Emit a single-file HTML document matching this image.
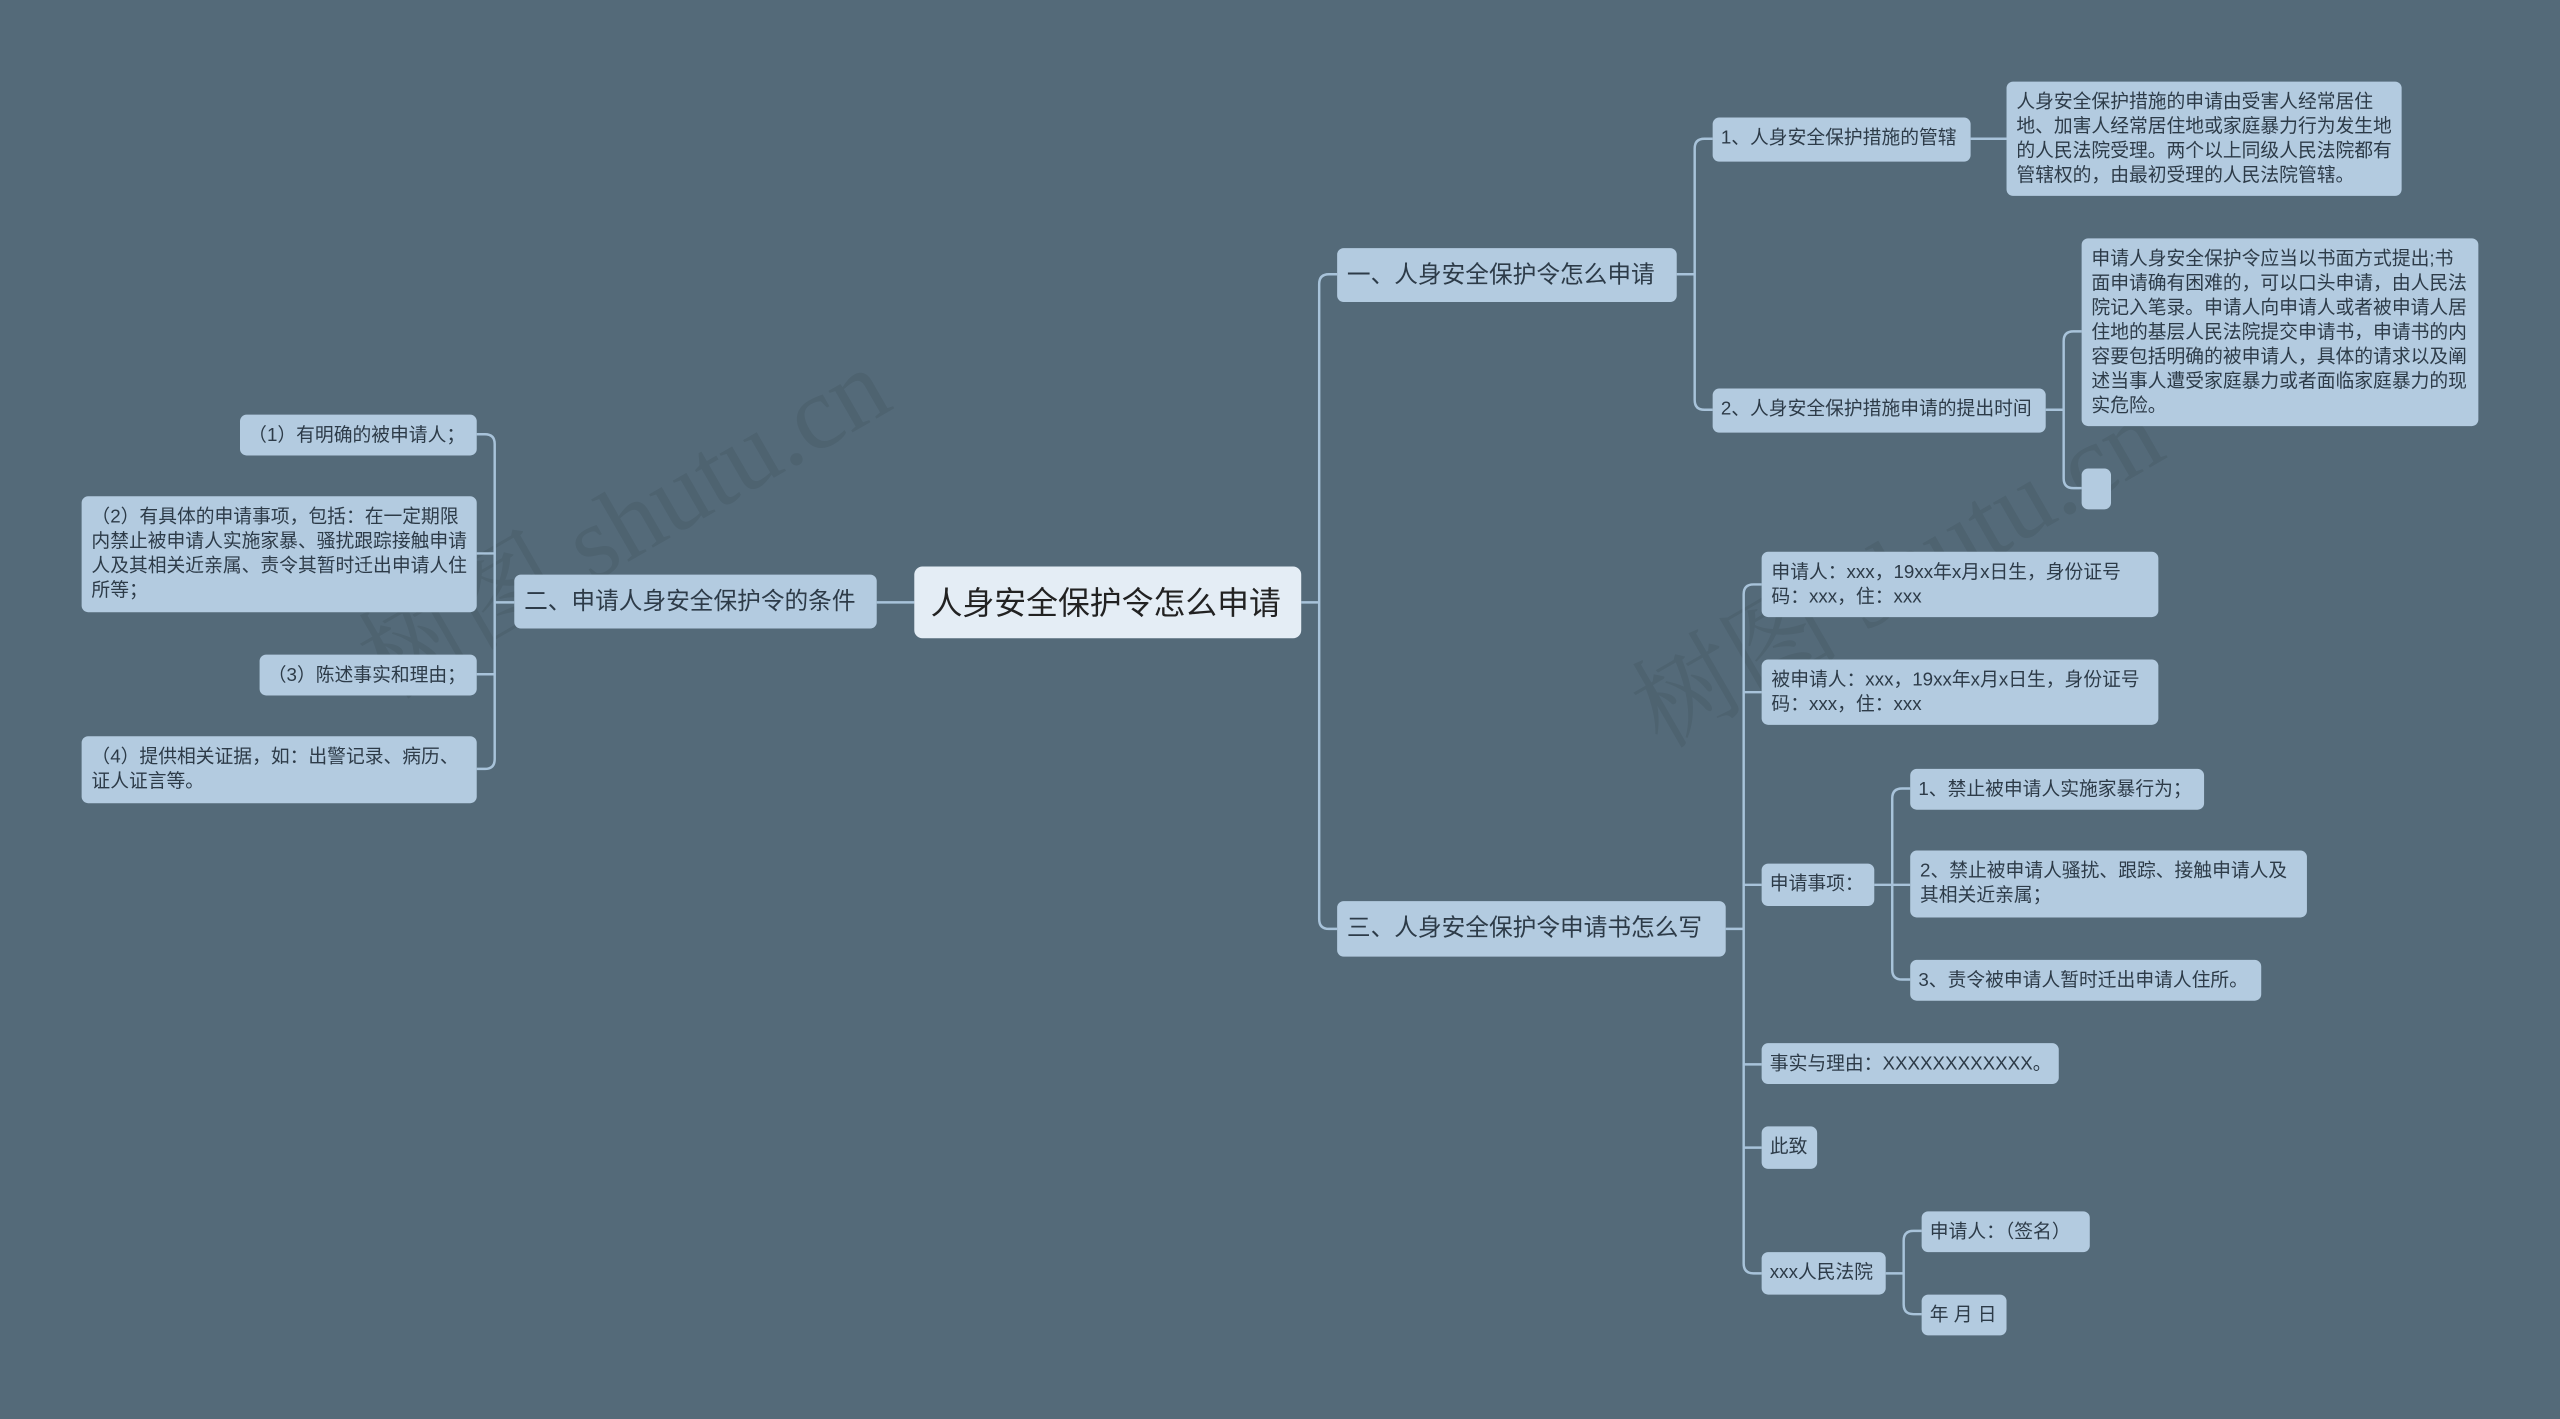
<!DOCTYPE html>
<html><head><meta charset="utf-8"><style>
html,body{margin:0;padding:0;width:2560px;height:1419px;overflow:hidden;background:#546a79;}
#s{position:absolute;left:0;top:0;width:1568px;height:869px;overflow:hidden;transform:scale(1.63265,1.6325);transform-origin:0 0;font-family:"Liberation Sans","Noto Sans CJK SC",sans-serif;}
.n{position:absolute;box-sizing:border-box;background:#b3cbe0;color:#2d3b48;border-radius:4px;font-size:11.5px;line-height:15px;padding:6px 6px 4px;}
.s{white-space:nowrap;padding:6px 5px 4px;}
.b{font-size:14.5px;line-height:20px;padding:7px 6px 5px;white-space:nowrap;}
.c{background:#e4edf5;font-size:19.5px;line-height:26px;padding:10px 10px 8px;border-radius:5px;color:#222;white-space:nowrap;}
.w{position:absolute;font-size:64px;color:rgba(40,55,65,0.14);transform:rotate(-30deg);white-space:nowrap;font-family:"Liberation Serif","Noto Serif CJK SC",serif;}
svg{position:absolute;left:0;top:0}
path{fill:none;stroke:#a8c3da;stroke-width:1.5}
</style></head><body><div id="s">
<div class="w" style="left:200px;top:270px">树图 shutu.cn</div>
<div class="w" style="left:980px;top:300px">树图 shutu.cn</div>
<svg width="1568" height="869">
<path d="M797 369H808"/>
<path d="M819 168H814Q808 168 808 174V563Q808 569 814 569H819"/>
<path d="M1027 168H1038"/>
<path d="M1049 85H1044Q1038 85 1038 91V245Q1038 251 1044 251H1049"/>
<path d="M1207 85H1229"/>
<path d="M1253 251H1264"/>
<path d="M1275 203H1270Q1264 203 1264 209V293Q1264 299 1270 299H1275"/>
<path d="M1057 569H1068"/>
<path d="M1079 358H1074Q1068 358 1068 364V774Q1068 780 1074 780H1079"/>
<path d="M1068 424H1079M1068 542H1079M1068 652H1079M1068 703H1079"/>
<path d="M1148 542H1159"/>
<path d="M1170 483H1165Q1159 483 1159 489V594Q1159 600 1165 600H1170"/>
<path d="M1159 542H1170"/>
<path d="M1155 780H1166"/>
<path d="M1177 754H1172Q1166 754 1166 760V799Q1166 805 1172 805H1177"/>
<path d="M560 369H537"/>
<path d="M315 369H303"/>
<path d="M292 266H297Q303 266 303 272V465Q303 471 297 471H292"/>
<path d="M292 339H303M292 413H303"/>
</svg>
<div class="n c" style="left:560px;top:347px;width:237px;height:44px">人身安全保护令怎么申请</div>
<div class="n b" style="left:315px;top:352px;width:222px;height:33px">二、申请人身安全保护令的条件</div>
<div class="n s" style="left:147px;top:254px;width:145px;height:25px">（1）有明确的被申请人；</div>
<div class="n" style="left:50px;top:304px;width:242px;height:71px">（2）有具体的申请事项，包括：在一定期限内禁止被申请人实施家暴、骚扰跟踪接触申请人及其相关近亲属、责令其暂时迁出申请人住所等；</div>
<div class="n s" style="left:159px;top:401px;width:133px;height:25px">（3）陈述事实和理由；</div>
<div class="n" style="left:50px;top:451px;width:242px;height:41px">（4）提供相关证据，如：出警记录、病历、证人证言等。</div>
<div class="n b" style="left:819px;top:152px;width:208px;height:33px">一、人身安全保护令怎么申请</div>
<div class="n s" style="left:1049px;top:72px;width:158px;height:27px">1、人身安全保护措施的管辖</div>
<div class="n" style="left:1229px;top:50px;width:242px;height:70px">人身安全保护措施的申请由受害人经常居住地、加害人经常居住地或家庭暴力行为发生地的人民法院受理。两个以上同级人民法院都有管辖权的，由最初受理的人民法院管辖。</div>
<div class="n s" style="left:1049px;top:238px;width:204px;height:27px">2、人身安全保护措施申请的提出时间</div>
<div class="n" style="left:1275px;top:146px;width:243px;height:115px">申请人身安全保护令应当以书面方式提出;书面申请确有困难的，可以口头申请，由人民法院记入笔录。申请人向申请人或者被申请人居住地的基层人民法院提交申请书，申请书的内容要包括明确的被申请人，具体的请求以及阐述当事人遭受家庭暴力或者面临家庭暴力的现实危险。</div>
<div class="n" style="left:1275px;top:287px;width:18px;height:25px"></div>
<div class="n b" style="left:819px;top:552px;width:238px;height:34px">三、人身安全保护令申请书怎么写</div>
<div class="n" style="left:1079px;top:338px;width:243px;height:40px">申请人：xxx，19xx年x月x日生，身份证号码：xxx，住：xxx</div>
<div class="n" style="left:1079px;top:404px;width:243px;height:40px">被申请人：xxx，19xx年x月x日生，身份证号码：xxx，住：xxx</div>
<div class="n s" style="left:1079px;top:529px;width:69px;height:26px">申请事项：</div>
<div class="n s" style="left:1170px;top:471px;width:180px;height:25px">1、禁止被申请人实施家暴行为；</div>
<div class="n" style="left:1170px;top:521px;width:243px;height:41px">2、禁止被申请人骚扰、跟踪、接触申请人及其相关近亲属；</div>
<div class="n s" style="left:1170px;top:588px;width:215px;height:25px">3、责令被申请人暂时迁出申请人住所。</div>
<div class="n s" style="left:1079px;top:639px;width:182px;height:25px">事实与理由：XXXXXXXXXXXX。</div>
<div class="n s" style="left:1079px;top:690px;width:34px;height:26px">此致</div>
<div class="n s" style="left:1079px;top:767px;width:76px;height:26px">xxx人民法院</div>
<div class="n s" style="left:1177px;top:742px;width:103px;height:25px">申请人：（签名）</div>
<div class="n s" style="left:1177px;top:793px;width:52px;height:25px">年 月 日</div>
</div></body></html>
